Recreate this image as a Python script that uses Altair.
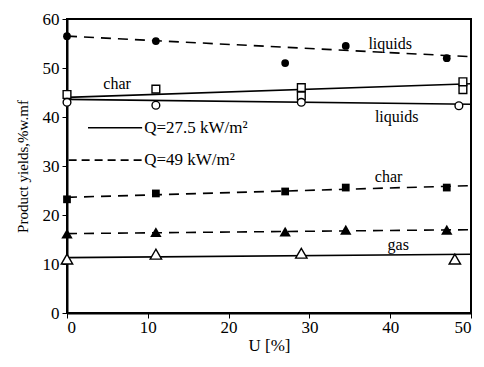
import altair as alt
import pandas as pd

# ---- data ----
U_49 = [0, 11, 27, 34.5, 47]
liquids_49 = [56.5, 55.5, 51.0, 54.5, 52.0]
char_49 = [23.2, 24.4, 24.8, 25.6, 25.6]
gas_49 = [16.2, 16.5, 16.6, 17.0, 17.0]

U_char_27 = [0, 11, 29, 29, 49, 49]
char_27 = [44.6, 45.7, 46.0, 44.3, 47.2, 45.6]
U_liq_27 = [0, 11, 29, 48.5]
liquids_27 = [43.0, 42.4, 43.0, 42.3]
U_gas_27 = [0, 11, 29, 48]
gas_27 = [11.0, 12.0, 12.2, 11.0]

fit_U = [0, 50]
fit_lines = {
    "liquids_49": [56.5, 52.3],
    "char_49": [23.6, 26.0],
    "gas_49": [16.2, 17.0],
    "char_27": [44.0, 46.8],
    "liquids_27": [43.6, 42.6],
    "gas_27": [11.3, 12.0],
}

labels = ["liquids", "char", "liquids", "char", "gas"]
label_U = [40, 6.2, 40.8, 39.8, 41]
label_y = [55, 46.7, 40, 27.7, 13.9]

legend_text = ["Q=27.5 kW/m²", "Q=49 kW/m²"]

FONT = "Liberation Serif"

# ---- tables ----
pts = []
for u, v in zip(U_49, liquids_49):
    pts.append(dict(U=u, y=v, shape="circle", filled=True))
for u, v in zip(U_49, char_49):
    pts.append(dict(U=u, y=v, shape="square", filled=True))
for u, v in zip(U_49, gas_49):
    pts.append(dict(U=u, y=v, shape="triangle-up", filled=True))
for u, v in zip(U_char_27, char_27):
    pts.append(dict(U=u, y=v, shape="square", filled=False))
for u, v in zip(U_liq_27, liquids_27):
    pts.append(dict(U=u, y=v, shape="circle", filled=False))
for u, v in zip(U_gas_27, gas_27):
    pts.append(dict(U=u, y=v, shape="triangle-up", filled=False))
pts = pd.DataFrame(pts)

fits = []
for name, vals in fit_lines.items():
    for u, v in zip(fit_U, vals):
        fits.append(dict(U=u, y=v, series=name, Q="49" if name.endswith("49") else "27.5"))
fits = pd.DataFrame(fits)

lab = pd.DataFrame(dict(U=label_U, y=label_y, text=labels))

xs = alt.Scale(domain=[0, 50], nice=False)
ys = alt.Scale(domain=[0, 60], nice=False)

xax = alt.Axis(values=[0, 10, 20, 30, 40, 50], title="U [%]", grid=False,
               labelFont=FONT, labelFontSize=17, titleFont=FONT, titleFontSize=17,
               titleFontWeight="normal", labelColor="black", titleColor="black",
               domainColor="black", tickColor="black", domainWidth=2, tickSize=5,
               labelPadding=1, titlePadding=2)
yax = alt.Axis(values=[0, 10, 20, 30, 40, 50, 60], title="Product yields,%w.mf", grid=False,
               labelFont=FONT, labelFontSize=17, titleFont=FONT, titleFontSize=15,
               titleFontWeight="normal", labelColor="black", titleColor="black",
               domainColor="black", tickColor="black", domainWidth=2, tickSize=5,
               labelPadding=3, titlePadding=12)

base_fit = alt.Chart(fits)
solid = base_fit.transform_filter(alt.datum.Q == "27.5").mark_line(
    color="black", strokeWidth=1.6
).encode(x=alt.X("U:Q", scale=xs, axis=xax), y=alt.Y("y:Q", scale=ys, axis=yax), detail="series:N")
dashed = base_fit.transform_filter(alt.datum.Q == "49").mark_line(
    color="black", strokeWidth=1.6, strokeDash=[10, 7]
).encode(x=alt.X("U:Q", scale=xs), y=alt.Y("y:Q", scale=ys), detail="series:N")

shape_scale = alt.Scale(domain=["circle", "square", "triangle-up"],
                        range=["circle", "square", "triangle-up"])
size_scale = alt.Scale(type="ordinal", domain=["circle", "square", "triangle-up"], range=[60, 60, 130])
filled_pts = alt.Chart(pts).transform_filter(alt.datum.filled == True).mark_point(
    filled=True, color="black", opacity=1
).encode(x=alt.X("U:Q", scale=xs), y=alt.Y("y:Q", scale=ys),
         shape=alt.Shape("shape:N", scale=shape_scale, legend=None),
         size=alt.Size("shape:N", scale=size_scale, legend=None))
open_pts = alt.Chart(pts).transform_filter(alt.datum.filled == False).mark_point(
    filled=True, fill="white", stroke="black", strokeWidth=1.4, opacity=1
).encode(x=alt.X("U:Q", scale=xs), y=alt.Y("y:Q", scale=ys),
         shape=alt.Shape("shape:N", scale=shape_scale, legend=None),
         size=alt.Size("shape:N", scale=size_scale, legend=None))

texts = alt.Chart(lab).mark_text(font=FONT, fontSize=16, color="black").encode(
    x=alt.X("U:Q", scale=xs), y=alt.Y("y:Q", scale=ys), text="text:N")

leg_solid = alt.Chart().mark_rule(color="black", strokeWidth=1.6).encode(
    x=alt.datum(2.6, scale=xs), x2=alt.datum(9.3), y=alt.datum(37.8, scale=ys))
leg_dash = alt.Chart().mark_rule(color="black", strokeWidth=1.6, strokeDash=[8, 5]).encode(
    x=alt.datum(0.2, scale=xs), x2=alt.datum(9.3), y=alt.datum(31.2, scale=ys))
leg_t1 = alt.Chart().mark_text(font=FONT, fontSize=17, color="black", align="left", dx=2).encode(
    x=alt.datum(9.3, scale=xs), y=alt.datum(37.8, scale=ys), text=alt.value(legend_text[0]))
leg_t2 = alt.Chart().mark_text(font=FONT, fontSize=17, color="black", align="left", dx=2).encode(
    x=alt.datum(9.3, scale=xs), y=alt.datum(31.2, scale=ys), text=alt.value(legend_text[1]))

chart = alt.layer(
    solid, dashed, filled_pts, open_pts, texts, leg_solid, leg_dash, leg_t1, leg_t2
).properties(
    width=404, height=294,
    autosize=alt.AutoSizeParams(type="none"),
    padding={"left": 59, "top": 11, "right": 5, "bottom": 40},
    background="white",
).configure_view(stroke="black", strokeWidth=2)

chart.save("out.html", embed_options={"renderer": "svg", "actions": False})
